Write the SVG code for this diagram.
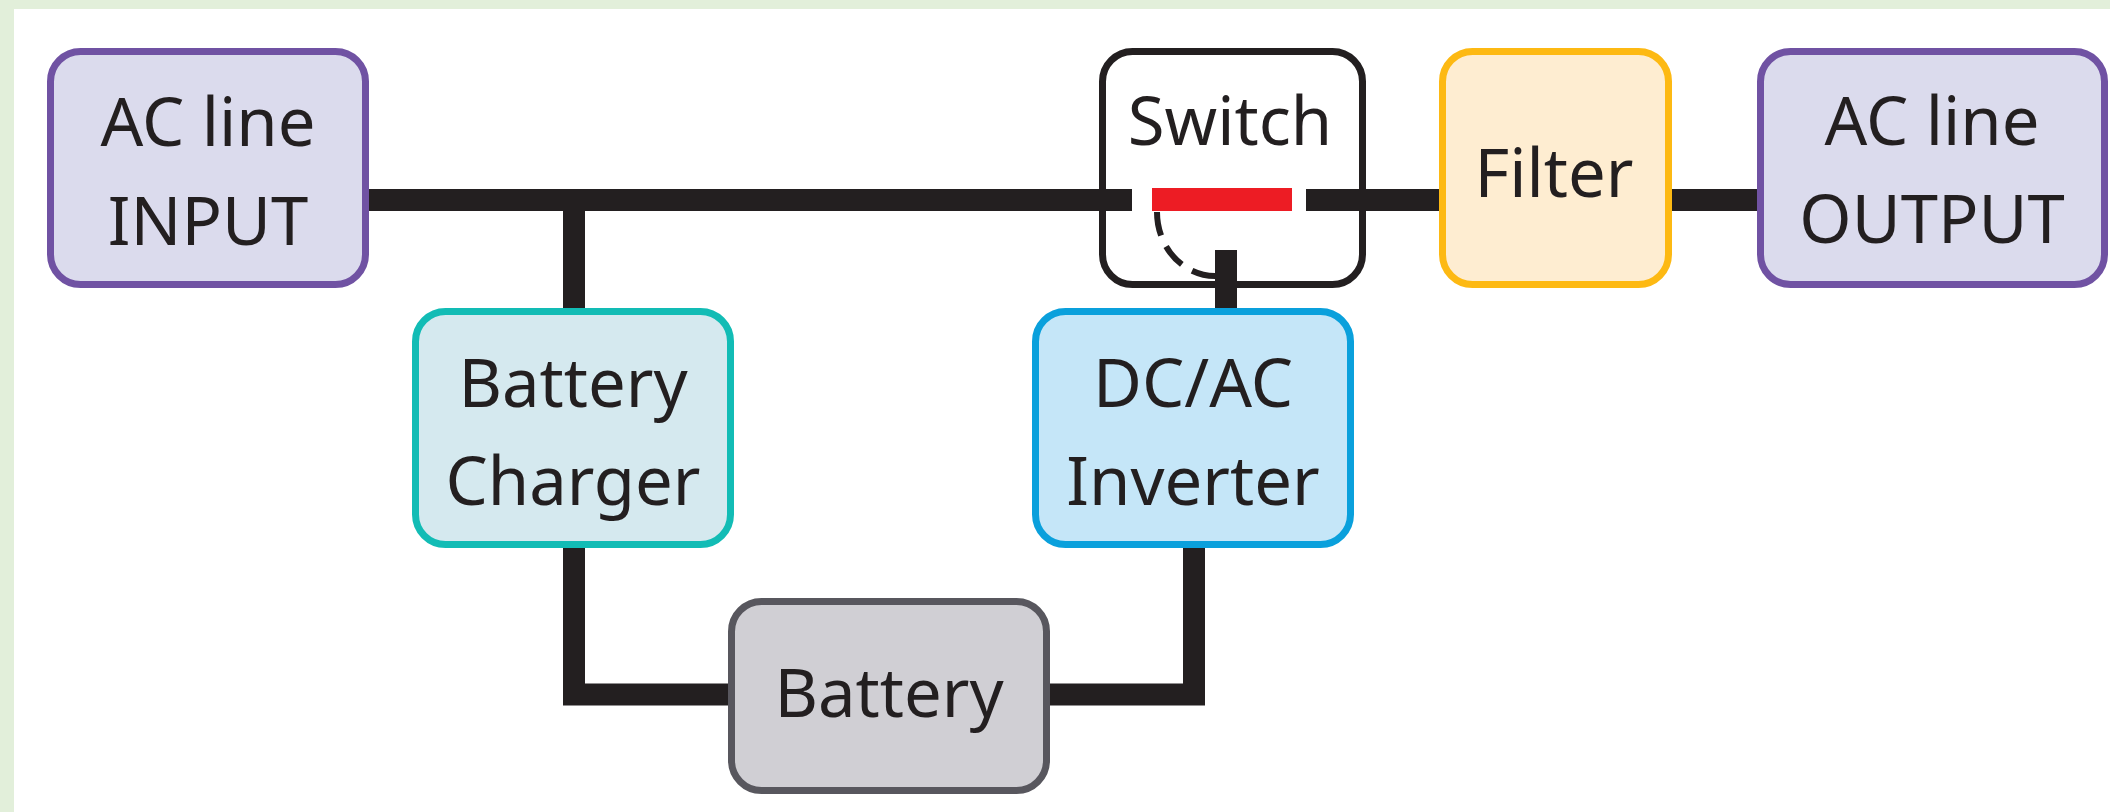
<svg xmlns="http://www.w3.org/2000/svg" width="2110" height="812" viewBox="0 0 2110 812">
<style>
.box{stroke-width:7}
.lbl{font-family:"Noto Sans","Open Sans","DejaVu Sans",sans-serif;font-size:67px;fill:#231f20;text-anchor:middle}
.wire{fill:none;stroke:#231f20;stroke-width:22;stroke-linecap:butt;stroke-linejoin:miter}
.ac{fill:#dbdbed;stroke:#7052a3}
</style>
<rect x="0" y="0" width="2110" height="812" fill="#e2efda"/>
<rect x="14" y="9" width="2096" height="803" fill="#ffffff"/>
<g id="connectors">
<line class="wire" x1="366" y1="200" x2="1132" y2="200"/>
<line class="wire" x1="1306" y1="200" x2="1442" y2="200"/>
<line class="wire" x1="1669" y1="200" x2="1760" y2="200"/>
<line class="wire" x1="574" y1="200" x2="574" y2="311"/>
<path class="wire" d="M574,545 V694.5 H731"/>
<path class="wire" d="M1047,694.5 H1194 V545"/>
<line class="wire" x1="1226" y1="250" x2="1226" y2="311"/>
<rect x="1152" y="188" width="140" height="23" fill="#ed1c24"/>
<path d="M1157,212 A58,64 0 0 0 1215,276" fill="none" stroke="#231f20" stroke-width="6" stroke-dasharray="24 12"/>
</g>
<g id="ac-input">
<rect class="box ac" x="50.5" y="51.5" width="315" height="233" rx="30"/>
<text class="lbl" x="208" y="146">AC line</text>
<text class="lbl" x="208" y="245">INPUT</text>
</g>
<g id="switch">
<rect class="box" x="1102.5" y="51.5" width="260" height="233" rx="30" fill="none" stroke="#231f20"/>
<text class="lbl" x="1230" y="145">Switch</text>
</g>
<g id="filter">
<rect class="box" x="1442.5" y="51.5" width="226" height="233" rx="30" fill="#feedd1" stroke="#fdb913"/>
<text class="lbl" x="1554" y="197">Filter</text>
</g>
<g id="ac-output">
<rect class="box ac" x="1760.5" y="51.5" width="344" height="233" rx="30"/>
<text class="lbl" x="1932" y="145">AC line</text>
<text class="lbl" x="1932" y="243">OUTPUT</text>
</g>
<g id="battery-charger">
<rect class="box" x="415.5" y="311.5" width="315" height="233" rx="30" fill="#d5e9ef" stroke="#12bcb5"/>
<text class="lbl" x="573" y="407">Battery</text>
<text class="lbl" x="573" y="505">Charger</text>
</g>
<g id="inverter">
<rect class="box" x="1035.5" y="311.5" width="315" height="233" rx="30" fill="#c5e6f8" stroke="#0aa0dc"/>
<text class="lbl" x="1193" y="407">DC/AC</text>
<text class="lbl" x="1193" y="505">Inverter</text>
</g>
<g id="battery">
<rect class="box" x="731.5" y="601.5" width="315" height="189" rx="30" fill="#d0cfd4" stroke="#58575e"/>
<text class="lbl" x="889" y="717">Battery</text>
</g>
</svg>
